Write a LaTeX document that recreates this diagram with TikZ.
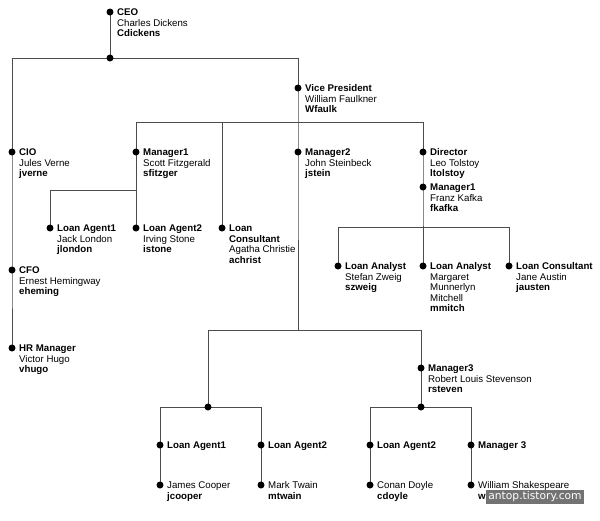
\documentclass[tikz,border=0pt]{standalone}
\usepackage{fontspec}
\setmainfont{Liberation Sans}
\newfontfamily\wmfont{DejaVu Sans}
\usetikzlibrary{backgrounds}
\newcommand\orgcard[1]{\begin{tabular}[t]{@{}l@{}}#1\end{tabular}}
\begin{document}
\begin{tikzpicture}[x=1pt,y=-1pt,
  dot/.style={circle,fill=black,draw=none,inner sep=0pt,minimum size=7pt},
  wire/.style={draw=black!70,line width=1pt},
  card/.style={anchor=base west,inner sep=0pt,font=\fontsize{9.7}{10.5}\selectfont,text=black},
  wmark/.style={fill=black!55,text=white,inner sep=0pt,minimum width=98pt,minimum height=14pt,font=\wmfont\fontsize{10.7}{12}\selectfont}]
\useasboundingbox (0,0) rectangle (600,520);

% dots
\node[dot] (ceo)  at (110,12)  {};
\node[dot] (j0)   at (110,58)  {};
\node[dot] (vp)   at (298,88)  {};
\node[dot] (cio)  at (12,152)  {};
\node[dot] (cfo)  at (12,270)  {};
\node[dot] (hr)   at (12,348)  {};
\node[dot] (mgr1) at (136,152) {};
\node[dot] (mgr2) at (298,152) {};
\node[dot] (dir)  at (423,152) {};
\node[dot] (mk)   at (423,187) {};
\node[dot] (la1)  at (50,228)  {};
\node[dot] (la2)  at (136,228) {};
\node[dot] (cons) at (222,228) {};
\node[dot] (an1)  at (338,266) {};
\node[dot] (an2)  at (423,266) {};
\node[dot] (an3)  at (509,266) {};
\node[dot] (m3)   at (421,368) {};
\node[dot] (jb)   at (208,407) {};
\node[dot] (jc)   at (421,407) {};
\node[dot] (bla1) at (160,445) {};
\node[dot] (bla2) at (261,445) {};
\node[dot] (cla2) at (370,445) {};
\node[dot] (bm3)  at (471,445) {};
\node[dot] (bjc)  at (160,485) {};
\node[dot] (bmt)  at (261,485) {};
\node[dot] (ccd)  at (370,485) {};
\node[dot] (cws)  at (471,485) {};

% branching points
\coordinate (jv)  at (298,122);
\coordinate (jm1) at (136,190);
\coordinate (jk)  at (423,227);
\coordinate (j5)  at (298,330);

% texts
\node[card] (ceoT)  at ([shift={(7,3.5)}]ceo.center)  {\orgcard{\textbf{CEO}\\Charles Dickens\\\textbf{Cdickens}}};
\node[card] (vpT)   at ([shift={(7,3.5)}]vp.center)   {\orgcard{\textbf{Vice President}\\William Faulkner\\\textbf{Wfaulk}}};
\node[card] (cioT)  at ([shift={(7,3.5)}]cio.center)  {\orgcard{\textbf{CIO}\\Jules Verne\\\textbf{jverne}}};
\node[card] (cfoT)  at ([shift={(7,3.5)}]cfo.center)  {\orgcard{\textbf{CFO}\\Ernest Hemingway\\\textbf{eheming}}};
\node[card] (hrT)   at ([shift={(7,3.5)}]hr.center)   {\orgcard{\textbf{HR Manager}\\Victor Hugo\\\textbf{vhugo}}};
\node[card] (mgr1T) at ([shift={(7,3.5)}]mgr1.center) {\orgcard{\textbf{Manager1}\\Scott Fitzgerald\\\textbf{sfitzger}}};
\node[card] (mgr2T) at ([shift={(7,3.5)}]mgr2.center) {\orgcard{\textbf{Manager2}\\John Steinbeck\\\textbf{jstein}}};
\node[card] (dirT)  at ([shift={(7,3.5)}]dir.center)  {\orgcard{\textbf{Director}\\Leo Tolstoy\\\textbf{ltolstoy}}};
\node[card] (mkT)   at ([shift={(7,3.5)}]mk.center)   {\orgcard{\textbf{Manager1}\\Franz Kafka\\\textbf{fkafka}}};
\node[card] (la1T)  at ([shift={(7,3.5)}]la1.center)  {\orgcard{\textbf{Loan Agent1}\\Jack London\\\textbf{jlondon}}};
\node[card] (la2T)  at ([shift={(7,3.5)}]la2.center)  {\orgcard{\textbf{Loan Agent2}\\Irving Stone\\\textbf{istone}}};
\node[card] (consT) at ([shift={(7,3.5)}]cons.center) {\orgcard{\textbf{Loan}\\\textbf{Consultant}\\Agatha Christie\\\textbf{achrist}}};
\node[card] (an1T)  at ([shift={(7,3.5)}]an1.center)  {\orgcard{\textbf{Loan Analyst}\\Stefan Zweig\\\textbf{szweig}}};
\node[card] (an2T)  at ([shift={(7,3.5)}]an2.center)  {\orgcard{\textbf{Loan Analyst}\\Margaret\\Munnerlyn\\Mitchell\\\textbf{mmitch}}};
\node[card] (an3T)  at ([shift={(7,3.5)}]an3.center)  {\orgcard{\textbf{Loan Consultant}\\Jane Austin\\\textbf{jausten}}};
\node[card] (m3T)   at ([shift={(7,3.5)}]m3.center)   {\orgcard{\textbf{Manager3}\\Robert Louis Stevenson\\\textbf{rsteven}}};
\node[card] (bla1T) at ([shift={(7,3.5)}]bla1.center) {\textbf{Loan Agent1}};
\node[card] (bla2T) at ([shift={(7,3.5)}]bla2.center) {\textbf{Loan Agent2}};
\node[card] (cla2T) at ([shift={(7,3.5)}]cla2.center) {\textbf{Loan Agent2}};
\node[card] (bm3T)  at ([shift={(7,3.5)}]bm3.center)  {\textbf{Manager 3}};
\node[card] (bjcT)  at ([shift={(7,3.5)}]bjc.center)  {\orgcard{James Cooper\\\textbf{jcooper}}};
\node[card] (bmtT)  at ([shift={(7,3.5)}]bmt.center)  {\orgcard{Mark Twain\\\textbf{mtwain}}};
\node[card] (ccdT)  at ([shift={(7,3.5)}]ccd.center)  {\orgcard{Conan Doyle\\\textbf{cdoyle}}};
\node[card] (cwsT)  at ([shift={(7,3.5)}]cws.center)  {\orgcard{William Shakespeare\\\textbf{wshakes}}};

% watermark
\node[wmark] (wm) at (535,497) {antop.tistory.com};

% connectors (behind the dots)
\begin{scope}[on background layer]
\fill[white] (0,0) rectangle (600,520);
\draw[wire] (ceo.center) -- (j0.center);
\draw[wire] (j0.center) -| (cio.center);
\draw[wire] (j0.center) -| (vp.center);
\draw[wire] (cio.center) -- (cfo.center) -- (hr.center);
\draw[wire] (vp.center) -- (mgr2.center) -- (j5);
\draw[wire] (jv) -| (mgr1.center);
\draw[wire] (jv) -| (cons.center);
\draw[wire] (jv) -| (dir.center);
\draw[wire] (mgr1.center) -- (la2.center);
\draw[wire] (jm1) -| (la1.center);
\draw[wire] (dir.center) -- (mk.center) -- (an2.center);
\draw[wire] (jk) -| (an1.center);
\draw[wire] (jk) -| (an3.center);
\draw[wire] (j5) -| (jb.center);
\draw[wire] (j5) -| (m3.center);
\draw[wire] (m3.center) -- (jc.center);
\draw[wire] (jb.center) -| (bla1.center);
\draw[wire] (jb.center) -| (bla2.center);
\draw[wire] (jc.center) -| (cla2.center);
\draw[wire] (jc.center) -| (bm3.center);
\draw[wire] (bla1.center) -- (bjc.center);
\draw[wire] (bla2.center) -- (bmt.center);
\draw[wire] (cla2.center) -- (ccd.center);
\draw[wire] (bm3.center) -- (cws.center);
\end{scope}
\end{tikzpicture}
\end{document}
